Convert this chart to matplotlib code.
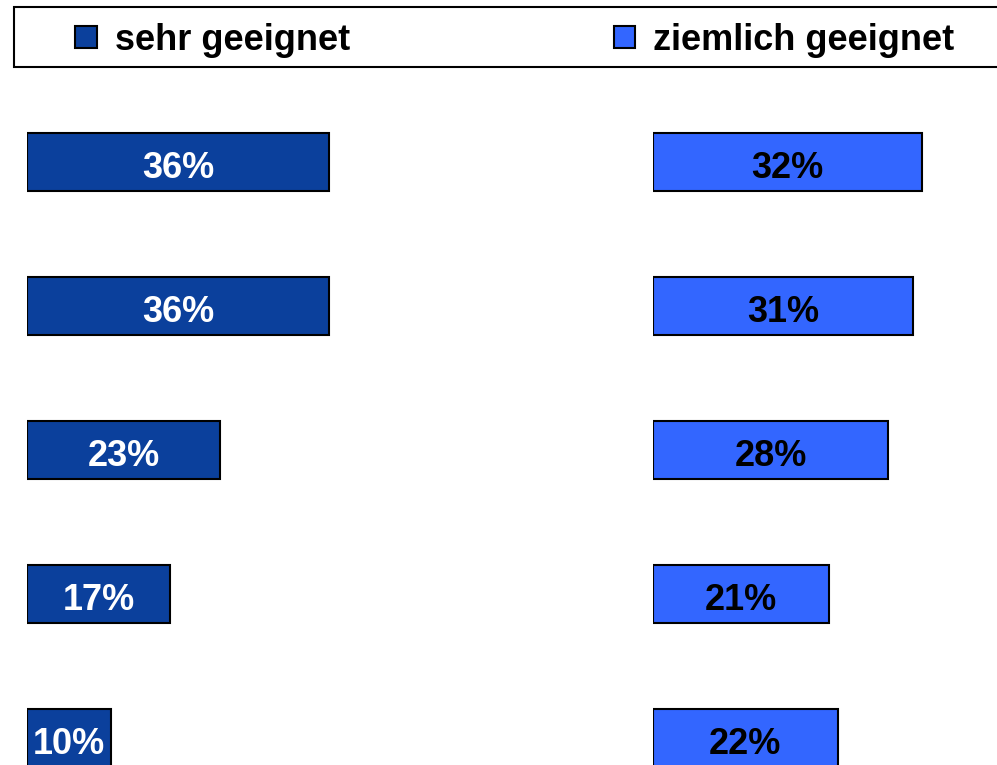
import matplotlib
matplotlib.use("Agg")
from matplotlib import pyplot as plt
from matplotlib.patches import Rectangle
import numpy as np

plt.rcParams['font.family'] = ['Liberation Sans', 'DejaVu Sans']

series = ['sehr geeignet', 'ziemlich geeignet']
sehr = [36, 36, 23, 17, 10]            # dunkelblaue Balken
ziemlich = [32, 31, 28, 21, 22]        # hellblaue Balken
colors = ['#0B409C', '#3366FF']
text_colors = ['white', 'black']

W, H = 997, 765
px_per_pct = 8.4
y = np.arange(len(sehr))
ylim = (4.1875, -1.125)                # Balkenmitte bei 162 px, Abstand 144 px

fig = plt.figure(figsize=(W / 100, H / 100), dpi=100)

# linker Block ab x=27 px, rechter Block ab x=653 px
ax1 = fig.add_axes([27 / W, 0, 600 / W, 1])
ax2 = fig.add_axes([653 / W, 0, 344 / W, 1])

bars = []
for ax, vals, c, tc, width_px in [(ax1, sehr, colors[0], text_colors[0], 600),
                                  (ax2, ziemlich, colors[1], text_colors[1], 344)]:
    b = ax.barh(y, vals, height=0.403, color=c, edgecolor='black', linewidth=1.5)
    bars.append(b)
    for yi, v in zip(y, vals):
        ax.text(v / 2, yi + 0.045, f'{v}%', ha='center', va='center',
                fontsize=26, fontweight='bold', color=tc)
    ax.set_xlim(0, width_px / px_per_pct)
    ax.set_ylim(*ylim)
    ax.axis('off')

# Legendenrahmen
fig.patches.append(Rectangle((14 / W, 1 - 67 / H), 1000 / W, 60 / H,
                             transform=fig.transFigure, facecolor='white',
                             edgecolor='black', linewidth=1.5, zorder=0))
fig.legend(bars, series, loc='center left', bbox_to_anchor=(57 / W, 1 - 40 / H),
           ncol=2, frameon=False, borderpad=0, handlelength=0.6, handleheight=0.55,
           handletextpad=0.5, columnspacing=7.3,
           prop={'size': 26, 'weight': 'bold'})

plt.savefig('out.png', dpi=100)
